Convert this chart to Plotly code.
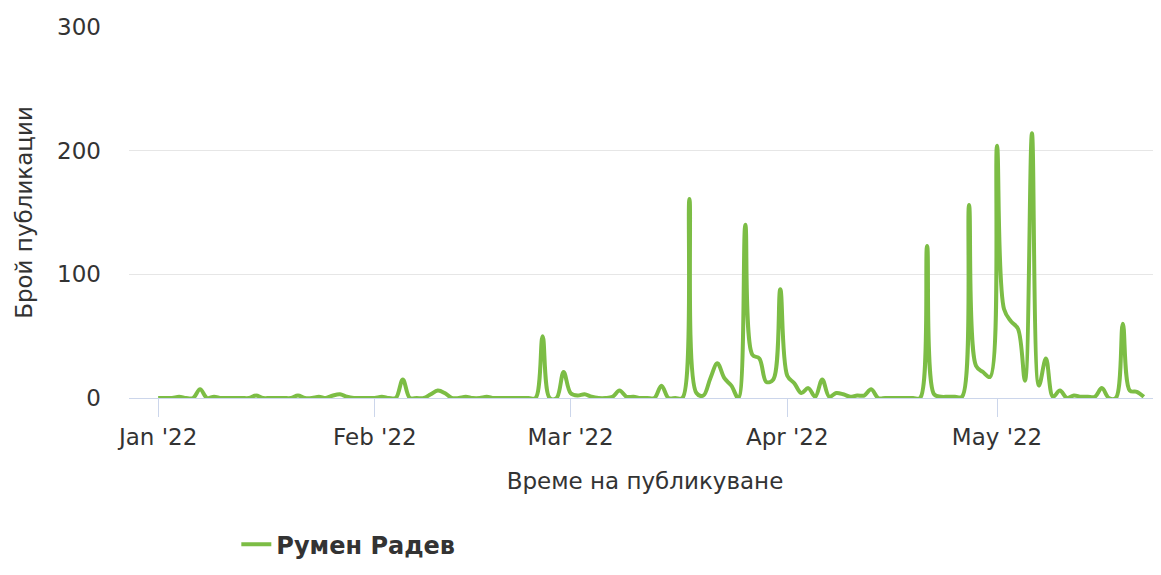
import pandas as pd
import plotly.graph_objects as go

series_name = "Румен Радев"
x_title = "Време на публикуване"
y_title = "Брой публикации"

start_date = "2022-01-01"

jan_values = [0, 0, 0, 1, 0, 0, 7, 0, 1, 0, 0, 0, 0, 0, 2, 0, 0, 0, 0, 0,
              2, 0, 0, 1, 0, 2, 3, 1, 0, 0, 0]
feb_values = [0, 1, 0, 0, 15, 0, 0, 0, 3, 6, 4, 0, 0, 1, 0, 0, 1, 0, 0, 0,
              0, 0, 0, 0, 50, 0, 0, 21]
mar_values = [4, 2, 3, 1, 0, 0, 1, 6, 1, 1, 0, 0, 0, 10, 0, 0, 0, 161, 4, 2,
              16, 28, 16, 10, 0, 140, 35, 32, 13, 15, 88]
apr_values = [18, 12, 4, 8, 1, 15, 1, 4, 3, 1, 2, 2, 7, 0, 0, 0, 0, 0, 0, 0,
              123, 3, 1, 1, 1, 1, 156, 26, 21, 17]
may_values = [204, 72, 62, 56, 14, 214, 10, 32, 1, 6, 0, 2, 1, 1, 1, 8, 0, 0,
              60, 6, 5, 1]

values = jan_values + feb_values + mar_values + apr_values + may_values
dates = pd.date_range(start_date, periods=len(values), freq="D")

tick_dates = ["2022-01-01", "2022-02-01", "2022-03-01", "2022-04-01", "2022-05-01"]
tick_labels = ["Jan '22", "Feb '22", "Mar '22", "Apr '22", "May '22"]
y_ticks = [0, 100, 200, 300]

FONT = "DejaVu Sans"
TEXT = "#333333"

fig = go.Figure()
fig.add_trace(go.Scatter(
    x=dates, y=values, mode="lines", name=series_name,
    line=dict(color="#7cbd45", width=4, shape="spline", smoothing=1.0),
))

fig.update_layout(
    width=1153, height=567,
    margin=dict(l=121, r=0, t=19, b=177, autoexpand=False),
    paper_bgcolor="white", plot_bgcolor="white",
    font=dict(family=FONT, size=23, color=TEXT),
    showlegend=True,
    legend=dict(
        orientation="h", x=0.104, xanchor="left", y=-0.395, yanchor="middle",
        font=dict(family=FONT, size=24, color=TEXT, weight="bold"),
        bgcolor="rgba(0,0,0,0)",
    ),
)

fig.update_xaxes(
    range=["2021-12-27 20:00", "2022-05-24 11:00"],
    tickvals=tick_dates, ticktext=tick_labels,
    ticks="outside", ticklen=18, tickcolor="#ccd6eb", tickwidth=1,
    showline=True, linecolor="#ccd6eb", linewidth=1,
    showgrid=False, zeroline=False,
    tickfont=dict(family=FONT, size=23, color=TEXT),
    title=dict(text=x_title, font=dict(family=FONT, size=23, color=TEXT), standoff=24),
    automargin=False,
)
fig.update_yaxes(
    range=[0, 300], tickvals=y_ticks,
    showgrid=True, gridcolor="#e6e6e6", gridwidth=1,
    zeroline=False, showline=False, ticks="",
    ticklabelstandoff=27,
    tickfont=dict(family=FONT, size=23, color=TEXT),
    title=dict(text=y_title, font=dict(family=FONT, size=23, color=TEXT), standoff=18),
    automargin=False,
)

fig.write_html("out.html")
